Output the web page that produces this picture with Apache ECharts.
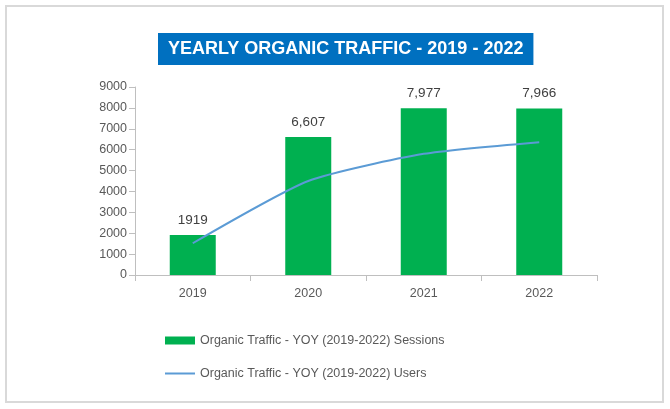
<!DOCTYPE html>
<html>
<head>
<meta charset="utf-8">
<script src="https://cdn.jsdelivr.net/npm/echarts@6/dist/echarts.min.js"></script>
<style>
html, body { margin: 0; padding: 0; background: #fff; }
#frame { position: absolute; left: 5px; top: 5px; width: 655px; height: 394px; border: 2px solid #d9d9d9; }
#chart { position: absolute; left: 0; top: 0; width: 670px; height: 409px; }
</style>
</head>
<body>
<div id="frame"></div>
<div id="chart"></div>
<script>
'use strict';
// chart data
var years = ['2019', '2020', '2021', '2022'];
var sessions = [1919, 6607, 7977, 7966];
var sessionLabels = ['1919', '6,607', '7,977', '7,966'];
var users = [1520, 4500, 5800, 6360];
var yTicks = [0, 9000, 1000]; // min, max, interval

var fontName = 'Liberation Sans, sans-serif';

var myChart = echarts.init(document.getElementById('chart'));
var option = {
    animation: false,
    title: {
        text: 'YEARLY ORGANIC TRAFFIC - 2019 - 2022',
        left: 158,
        top: 33,
        backgroundColor: '#0070c0',
        padding: [7, 10, 7, 10],
        textStyle: {
            color: '#fff',
            fontFamily: fontName,
            fontWeight: 'bold',
            fontSize: 18,
            lineHeight: 18
        }
    },
    legend: {
        orient: 'vertical',
        left: 165,
        top: 334,
        padding: 0,
        itemWidth: 30,
        itemHeight: 8,
        itemGap: 20,
        textStyle: { color: '#595959', fontFamily: fontName, fontSize: 12.5 },
        data: [
            { name: 'Organic Traffic - YOY (2019-2022) Sessions', icon: 'rect' },
            { name: 'Organic Traffic - YOY (2019-2022) Users', icon: 'path://M0,0 L30,0 L30,2 L0,2 Z', itemStyle: { color: '#5b9bd5' } }
        ]
    },
    grid: { left: 135, right: 73, top: 87, bottom: 134 },
    xAxis: {
        type: 'category',
        data: years,
        axisLine: { lineStyle: { color: '#bfbfbf', width: 1 } },
        axisTick: { show: true, length: 6, lineStyle: { color: '#bfbfbf' } },
        axisLabel: { color: '#595959', fontFamily: fontName, fontSize: 12.5, margin: 12 }
    },
    yAxis: {
        type: 'value',
        min: yTicks[0],
        max: yTicks[1],
        interval: yTicks[2],
        splitLine: { show: false },
        axisLine: { show: true, lineStyle: { color: '#bfbfbf' } },
        axisTick: { show: true, length: 6, lineStyle: { color: '#bfbfbf' } },
        axisLabel: {
            color: '#595959', fontFamily: fontName, fontSize: 12.5, margin: 8,
            formatter: function (v) { return String(v); }
        }
    },
    series: [
        {
            name: 'Organic Traffic - YOY (2019-2022) Sessions',
            type: 'bar',
            data: sessions,
            barWidth: 46,
            itemStyle: { color: '#00b050' },
            label: {
                show: true,
                position: 'top',
                distance: 8,
                color: '#404040',
                fontFamily: fontName,
                fontSize: 13.5,
                formatter: function (p) { return sessionLabels[p.dataIndex]; }
            }
        },
        {
            name: 'Organic Traffic - YOY (2019-2022) Users',
            type: 'line',
            data: users,
            smooth: 0.2,
            symbol: 'none',
            lineStyle: { color: '#5b9bd5', width: 2 },
            itemStyle: { color: '#5b9bd5' }
        }
    ]
};
myChart.setOption(option);
</script>
</body>
</html>
